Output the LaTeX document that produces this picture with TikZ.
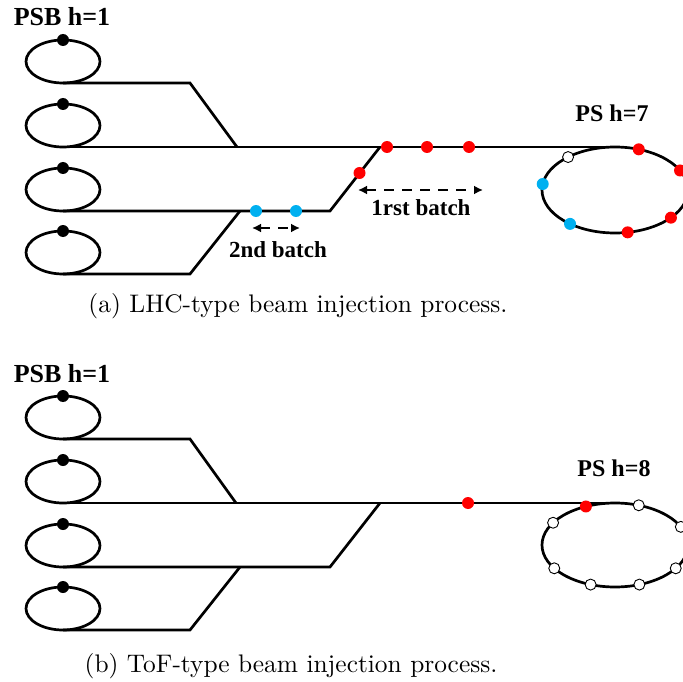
\documentclass[tikz,border=0pt]{standalone}
\usepackage{fontspec}
\newfontfamily\labelfont{Liberation Serif}
\newfontfamily\capfont{lmroman10-regular.otf}
\usetikzlibrary{arrows.meta}
\definecolor{bunchred}{RGB}{255,0,0}
\definecolor{bunchblue}{RGB}{0,176,240}

\begin{document}
\begin{tikzpicture}[x=1pt,y=-1pt,
	beam/.style={line width=2.7pt},
	bunch/.style={circle,inner sep=0pt,minimum size=12pt,fill=#1},
	freebucket/.style={circle,inner sep=0pt,minimum size=11pt,draw,line width=0.9pt,fill=white},
	tag/.style={font=\labelfont\bfseries\fontsize{#1}{#1}\selectfont,inner sep=0pt,anchor=base},
	batch/.style={line width=2pt,dash pattern=on 10pt off 8pt,{Latex[length=9pt,width=9pt]}-{Latex[length=9pt,width=9pt]}},
	caption/.style={font=\capfont\fontsize{25.4}{30}\selectfont,inner sep=0pt,anchor=base}]
	\useasboundingbox (0,0) rectangle (683,682);

	% (a) LHC-type filling: four PSB rings into the PS
	\node[tag=26] (psbA) at (62,26) {PSB h=1};
	\foreach \i/\y in {1/61.5,2/125.5,3/189.5,4/252.5}{
		\coordinate (a\i) at (63,\y);
		\coordinate (a\i b) at (63,\y+21.5);
		\draw[beam] (a\i) ellipse [x radius=37,y radius=21.5];
		\node[bunch=black] (a\i d) at (63,\y-21.5) {};
	}
	\coordinate (psA) at (615,190);
	\coordinate (psAtop) at (615,147);
	\coordinate (a1k) at (190,83);
	\coordinate (a1m) at (237,147);
	\coordinate (a3k) at (330,211);
	\coordinate (a3m) at (380,147);
	\coordinate (a4k) at (190,274);
	\coordinate (a4m) at (240,211);

	\draw[beam] (a1b) -- (a1k) -- (a1m);
	\draw[beam] (a2b) -- (psAtop);
	\draw[beam] (a3b) -- (a3k) -- (a3m);
	\draw[beam] (a4b) -- (a4k) -- (a4m);
	\draw[beam] (psA) ellipse [x radius=73,y radius=43];

	% bunches on their way
	\node[bunch=bunchblue] (blue1) at (256,211) {};
	\node[bunch=bunchblue] (blue2) at (296,211) {};
	\node[bunch=bunchred] (red1) at (359.5,173) {};
	\node[bunch=bunchred] (red2) at (387,147) {};
	\node[bunch=bunchred] (red3) at (427,147) {};
	\node[bunch=bunchred] (red4) at (469,147) {};

	% PS buckets, h=7
	\foreach \t/\c in {27/bunchred,71/bunchred,280/bunchred,320/bunchred,172/bunchblue,232/bunchblue}
		\node[bunch=\c] at ([shift={(\t:73 and -43)}]psA) {};
	\node[freebucket] at ([shift={(130:73 and -43)}]psA) {};

	\coordinate (b1l) at (358,190);
	\coordinate (b1r) at (483,190);
	\coordinate (b2l) at (252,228);
	\coordinate (b2r) at (300,228);
	\draw[batch] (b1l) -- (b1r);
	\draw[batch] (b2l) -- (b2r);
	\node[tag=23] (first) at (421,215) {1rst batch};
	\node[tag=23] (second) at (278,257) {2nd batch};
	\node[tag=24] (psA label) at (612,122) {PS h=7};
	\node[caption] (capA) at (298,312) {(a) LHC-type beam injection process.};

	% (b) ToF-type filling
	\node[tag=26] (psbB) at (62,382) {PSB h=1};
	\foreach \i/\y in {1/417.5,2/481.5,3/545.5,4/608.5}{
		\coordinate (b\i) at (63,\y);
		\coordinate (b\i b) at (63,\y+21.5);
		\draw[beam] (b\i) ellipse [x radius=37,y radius=21.5];
		\node[bunch=black] (b\i d) at (63,\y-21.5) {};
	}
	\coordinate (psB) at (615,545);
	\coordinate (psBtop) at (615,503);
	\coordinate (b1k) at (190,439);
	\coordinate (b1m) at (236,503);
	\coordinate (b3k) at (330,567);
	\coordinate (b3m) at (380,503);
	\coordinate (b4k) at (190,630);
	\coordinate (b4m) at (240,567);

	\draw[beam] (b1b) -- (b1k) -- (b1m);
	\draw[beam] (b2b) -- (psBtop);
	\draw[beam] (b3b) -- (b3k) -- (b3m);
	\draw[beam] (b4b) -- (b4k) -- (b4m);
	\draw[beam] (psB) ellipse [x radius=73,y radius=42];

	\node[bunch=bunchred] (tof) at (468,503) {};

	% PS buckets, h=8
	\foreach \t in {25.6,71,148,213.7,250.5,289.5,326.3}
		\node[freebucket] at ([shift={(\t:73 and -42)}]psB) {};
	\node[bunch=bunchred] at ([shift={(113.5:73 and -42)}]psB) {};

	\node[tag=24] (psB label) at (614,476) {PS h=8};
	\node[caption] (capB) at (291,672) {(b) ToF-type beam injection process.};
\end{tikzpicture}
\end{document}
